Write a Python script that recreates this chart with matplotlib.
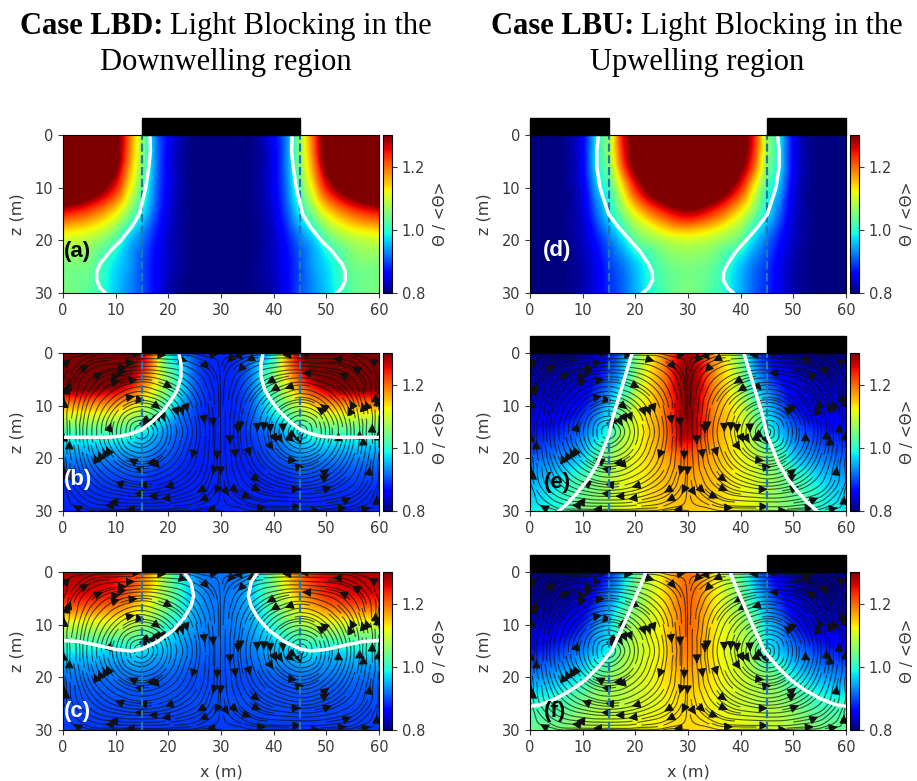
import matplotlib
matplotlib.use('Agg')
import matplotlib.pyplot as plt
import matplotlib.tri as mtri
import numpy as np
from matplotlib.patches import Rectangle

W, H = 917, 781

# half domain grid, right half is the mirror image
x_half = [0, 5, 10, 12.5, 15, 17.5, 20, 25, 30]
z_rows = [0, 5, 10, 15, 20, 25, 30]

theta_a = [[1.45, 1.45, 1.33, 1.20, 1.07, 0.93, 0.86, 0.80, 0.80],
           [1.45, 1.45, 1.32, 1.18, 1.06, 0.93, 0.85, 0.80, 0.80],
           [1.42, 1.36, 1.24, 1.13, 1.03, 0.92, 0.85, 0.80, 0.80],
           [1.24, 1.20, 1.12, 1.05, 0.98, 0.90, 0.84, 0.80, 0.80],
           [1.10, 1.08, 1.02, 0.96, 0.92, 0.87, 0.83, 0.80, 0.80],
           [1.05, 1.04, 0.97, 0.94, 0.90, 0.86, 0.83, 0.80, 0.79],
           [1.05, 1.03, 0.96, 0.93, 0.90, 0.86, 0.82, 0.80, 0.79]]
theta_b = [[1.40, 1.40, 1.38, 1.35, 1.28, 1.17, 1.00, 0.90, 0.88],
           [1.36, 1.36, 1.33, 1.28, 1.21, 1.13, 1.05, 0.91, 0.88],
           [1.17, 1.17, 1.16, 1.14, 1.10, 1.05, 1.00, 0.90, 0.88],
           [1.02, 1.02, 1.02, 1.01, 0.99, 0.96, 0.93, 0.89, 0.88],
           [0.93, 0.93, 0.93, 0.93, 0.93, 0.91, 0.90, 0.88, 0.88],
           [0.89, 0.89, 0.89, 0.89, 0.89, 0.88, 0.88, 0.88, 0.88],
           [0.88, 0.88, 0.88, 0.88, 0.88, 0.88, 0.88, 0.88, 0.88]]
theta_c = [[1.28, 1.28, 1.26, 1.24, 1.20, 1.14, 1.05, 0.94, 0.92],
           [1.24, 1.24, 1.22, 1.19, 1.15, 1.10, 1.05, 0.95, 0.92],
           [1.10, 1.10, 1.10, 1.09, 1.07, 1.04, 1.00, 0.94, 0.92],
           [0.99, 0.98, 0.97, 0.98, 0.98, 0.96, 0.95, 0.92, 0.91],
           [0.92, 0.92, 0.92, 0.92, 0.92, 0.91, 0.91, 0.90, 0.90],
           [0.90, 0.90, 0.90, 0.90, 0.90, 0.90, 0.90, 0.90, 0.90],
           [0.89, 0.89, 0.89, 0.89, 0.89, 0.89, 0.89, 0.89, 0.89]]
theta_d = [[0.80, 0.80, 0.86, 0.98, 1.08, 1.25, 1.33, 1.50, 1.50],
           [0.80, 0.80, 0.86, 0.98, 1.07, 1.22, 1.33, 1.50, 1.50],
           [0.80, 0.80, 0.85, 0.95, 1.02, 1.13, 1.24, 1.38, 1.45],
           [0.80, 0.80, 0.84, 0.91, 0.98, 1.05, 1.12, 1.22, 1.27],
           [0.80, 0.80, 0.83, 0.87, 0.92, 0.97, 1.03, 1.08, 1.10],
           [0.80, 0.80, 0.82, 0.85, 0.89, 0.92, 0.96, 1.03, 1.05],
           [0.80, 0.80, 0.82, 0.85, 0.88, 0.91, 0.95, 1.02, 1.05]]
theta_e = [[0.80, 0.80, 0.81, 0.83, 0.87, 0.93, 1.04, 1.17, 1.28],
           [0.82, 0.82, 0.84, 0.87, 0.91, 0.97, 1.07, 1.18, 1.30],
           [0.84, 0.84, 0.87, 0.91, 0.97, 1.04, 1.10, 1.18, 1.30],
           [0.87, 0.88, 0.92, 0.96, 1.00, 1.07, 1.11, 1.18, 1.28],
           [0.91, 0.93, 0.97, 1.02, 1.06, 1.10, 1.12, 1.16, 1.20],
           [0.95, 0.98, 1.03, 1.05, 1.08, 1.11, 1.12, 1.15, 1.16],
           [0.98, 1.00, 1.05, 1.06, 1.08, 1.11, 1.12, 1.14, 1.15]]
theta_f = [[0.80, 0.80, 0.81, 0.84, 0.88, 0.95, 1.03, 1.13, 1.19],
           [0.81, 0.81, 0.84, 0.88, 0.93, 0.99, 1.05, 1.13, 1.20],
           [0.83, 0.84, 0.88, 0.93, 0.97, 1.04, 1.08, 1.13, 1.20],
           [0.87, 0.89, 0.93, 0.96, 0.99, 1.06, 1.09, 1.13, 1.19],
           [0.93, 0.95, 0.99, 1.03, 1.06, 1.08, 1.10, 1.13, 1.16],
           [1.00, 1.01, 1.05, 1.07, 1.08, 1.09, 1.10, 1.12, 1.14],
           [1.04, 1.05, 1.08, 1.09, 1.10, 1.11, 1.12, 1.13, 1.14]]

# stream function of the left cell
x_psi = [0, 5, 10, 15, 20, 25, 30]
z_psi = [0, 5, 10, 15, 20, 25, 30]
psi_left = [[0, 0.00, 0.00, 0.00, 0.00, 0.00, 0],
            [0, 0.32, 0.52, 0.60, 0.52, 0.32, 0],
            [0, 0.52, 0.78, 0.87, 0.78, 0.52, 0],
            [0, 0.60, 0.87, 1.00, 0.87, 0.60, 0],
            [0, 0.52, 0.78, 0.87, 0.78, 0.52, 0],
            [0, 0.32, 0.52, 0.60, 0.52, 0.32, 0],
            [0, 0.00, 0.00, 0.00, 0.00, 0.00, 0]]

# white contour, left half
white_a = ([16.5, 16.6, 16.3, 15.7, 14.5, 13, 11, 9, 7, 6.4, 6.4, 7, 8],
           [0, 3, 6, 10, 15, 17.5, 20, 22, 24.5, 26, 27.5, 29, 30])
white_b = ([0, 4, 8, 11, 13, 15, 17, 19, 20.5, 21.7, 22.4, 22.4, 22],
           [16, 16, 16, 15.8, 15.3, 14.5, 13, 11, 9, 7, 4.5, 2, 0])
white_c = ([0, 3, 6, 10, 13, 15, 18, 21, 23, 24.3, 24.8, 24.3, 23],
           [13, 13.2, 13.8, 14.7, 15, 14.6, 13.2, 11, 8.7, 6.5, 4.5, 2, 0])
white_d = ([13, 12.7, 12.7, 13.3, 14.9, 16.8, 19, 20.8, 22.5, 23.2, 23.3, 22.5, 21.4],
           [0, 3, 6, 10, 15, 17.5, 20, 22, 24.5, 26, 27.5, 29, 30])
white_e = ([19.4, 18.2, 17, 15.8, 15, 14, 12.8, 11, 9, 7.2, 5.5],
           [0, 4, 8, 12, 15.5, 18, 21, 24, 26.5, 28.5, 30])
white_f = ([22, 20.8, 19.5, 18, 15.5, 13, 10.5, 8, 5, 2, 0],
           [0, 3, 6, 9.5, 15, 18, 20.5, 22.3, 24, 25.2, 25.5])

panel_labels = ['(a)', '(b)', '(c)', '(d)', '(e)', '(f)']
label_colors = ['black', 'white', 'white', 'white', 'black', 'black']
label_xz = [(0.2, 22.2), (0.2, 24.1), (0.2, 26.5), (2.5, 22), (2.7, 24.5), (2.7, 26.5)]
thetas = [theta_a, theta_b, theta_c, theta_d, theta_e, theta_f]
whites = [white_a, white_b, white_c, white_d, white_e, white_f]
has_flow = [False, True, True, False, True, True]
tick_vals = [0, 10, 20, 30, 40, 50, 60]
ztick_vals = [0, 10, 20, 30]
cbar_ticks = [0.8, 1.0, 1.2]

# pixel boxes
col_left = [63, 530]
row_top = [135, 353, 572]
ax_w, ax_h = 316, 158
TXT = '#3a3a3a'

x_fine = np.linspace(0, 60, 241)
z_fine = np.linspace(0, 30, 121)


def smooth(xs, zs, table):
    xg, zg = np.meshgrid(xs, zs)
    tri = mtri.Triangulation(xg.ravel(), zg.ravel())
    interp = mtri.CubicTriInterpolator(tri, np.asarray(table, float).ravel(), kind='geom')
    xf, zf = np.meshgrid(x_fine, z_fine)
    return interp(xf, zf).filled(np.nan)


def full_theta(table):
    t = np.asarray(table, float)
    xs = list(x_half) + [60 - v for v in x_half[-2::-1]]
    return xs, np.hstack([t, t[:, -2::-1]])


psi_xs = list(x_psi) + [60 - v for v in x_psi[-2::-1]]
p = np.asarray(psi_left, float)
psi_full = smooth(psi_xs, z_psi, np.hstack([p, -p[:, -2::-1]]))
dpsi_dz, dpsi_dx = np.gradient(psi_full, z_fine, x_fine)
u_flow = dpsi_dz
w_flow = -dpsi_dx

fig = plt.figure(figsize=(W / 100, H / 100), dpi=100)


def box(l, t, w, h):
    return [l / W, 1 - (t + h) / H, w / W, h / H]


for i in range(6):
    col = i // 3
    row = i % 3
    ax = fig.add_axes(box(col_left[col], row_top[row], ax_w, ax_h))
    xs, tab = full_theta(thetas[i])
    field = smooth(xs, z_rows, tab)
    im = ax.imshow(field, extent=[0, 60, 30, 0], aspect='auto', cmap='jet',
                   vmin=0.8, vmax=1.3, interpolation='bilinear')
    if has_flow[i]:
        st = ax.streamplot(x_fine, z_fine, u_flow, w_flow, density=(2.5, 1.8), color='#111111',
                           linewidth=0.8, arrowsize=1.3, arrowstyle='-|>')
        st.lines.set_alpha(0.7)
    ax.axvline(15, color='tab:blue', ls='--', lw=1.6)
    ax.axvline(45, color='tab:blue', ls='--', lw=1.6)
    wx, wz = whites[i]
    ax.plot(wx, wz, color='white', lw=2.5)
    ax.plot(60 - np.array(wx), wz, color='white', lw=2.5)
    ax.set_xlim(0, 60)
    ax.set_ylim(30, 0)
    ax.set_xticks(tick_vals)
    ax.set_yticks(ztick_vals)
    ax.tick_params(labelsize=10.5, labelcolor=TXT, color=TXT)
    ax.set_ylabel('z (m)', fontsize=11.5, color=TXT, labelpad=7)
    if row == 2:
        ax.set_xlabel('x (m)', fontsize=11.5, color=TXT, labelpad=7)
    if col == 0:
        spans = [(15, 30)]
    else:
        spans = [(0, 15), (45, 15)]
    for x0, wd in spans:
        ax.add_patch(Rectangle((x0, 0), wd, -3.2, color='black', clip_on=False, zorder=5))
    ax.text(label_xz[i][0], label_xz[i][1], panel_labels[i], color=label_colors[i],
            fontsize=16, fontweight='bold', va='center', ha='left',
            family=['Liberation Sans Narrow', 'Liberation Sans'], zorder=6)

    cax = fig.add_axes(box(col_left[col] + 320, row_top[row], 9, ax_h))
    cb = fig.colorbar(im, cax=cax, ticks=cbar_ticks)
    cb.ax.tick_params(labelsize=10.5, labelcolor=TXT, color=TXT)
    cb.set_label('Θ / <Θ>', fontsize=11, color=TXT, labelpad=6)

# titles, bold part followed by regular part
title_left = [20 / W, 491 / W]
title_bold = ['Case LBD:', 'Case LBU:']
title_rest = ['Light Blocking in the', 'Light Blocking in the']
title_line2 = ['Downwelling region', 'Upwelling region']
title_center = [226 / W, 697 / W]
for i in range(2):
    t = fig.text(title_left[i], 1 - 34 / H, title_bold[i], fontsize=22, fontweight='bold',
                 family='Liberation Serif', ha='left', va='baseline')
    fig.canvas.draw()
    ext = t.get_window_extent()
    fig.text((ext.x1 + 7) / W, 1 - 34 / H, title_rest[i], fontsize=22,
             family='Liberation Serif', ha='left', va='baseline')
    fig.text(title_center[i], 1 - 70 / H, title_line2[i], fontsize=22,
             family='Liberation Serif', ha='center', va='baseline')

fig.savefig('out.png', dpi=100)
